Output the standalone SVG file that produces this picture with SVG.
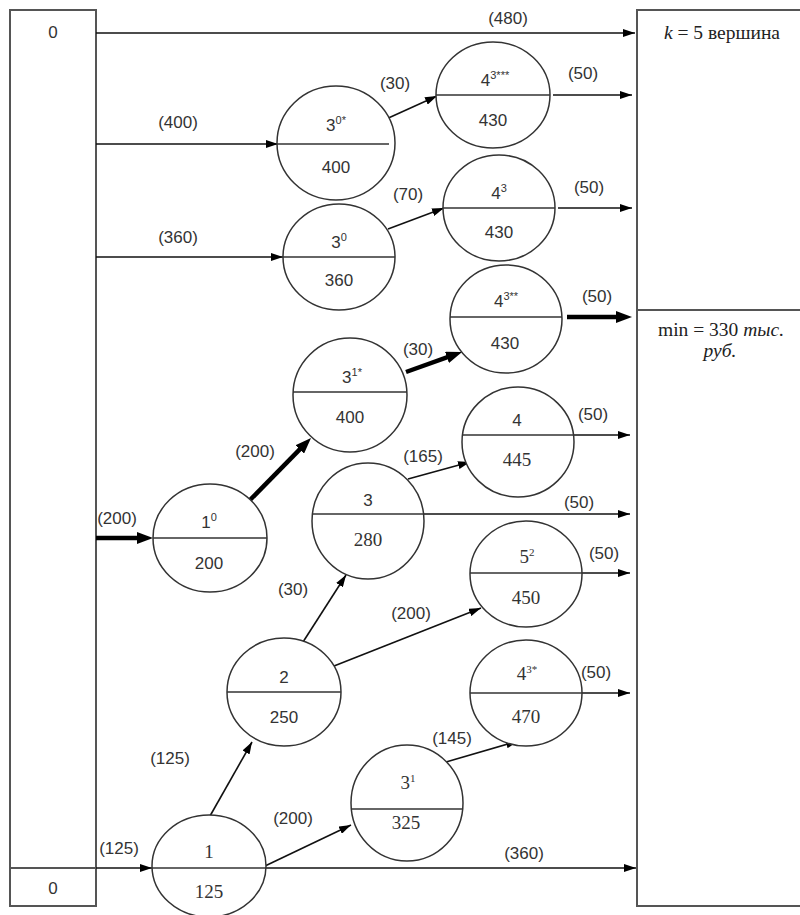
<svg xmlns="http://www.w3.org/2000/svg" width="800" height="915" viewBox="0 0 800 915">
<defs>
<style>
.box{fill:none;stroke:#555;stroke-width:2}
.node{fill:#fff;stroke:#333;stroke-width:1.5}
.div{stroke:#333;stroke-width:1.5}
.c{fill:none;stroke:#111;stroke-width:1.6;marker-end:url(#ah)}
.t{fill:none;stroke:#000;stroke-width:4.5;marker-end:url(#ahb)}
text{font-family:"Liberation Sans",Arial,sans-serif;font-size:17px;fill:#333;text-anchor:middle}
.s{font-family:"Liberation Serif","Times New Roman",serif;font-size:19px}
.sup{font-size:11px}
.r{font-family:"Liberation Serif","Times New Roman",serif;font-size:19.5px;fill:#222}
</style>
<marker id="ah" viewBox="0 0 12 8" refX="12" refY="4" markerWidth="12" markerHeight="8" markerUnits="userSpaceOnUse" orient="auto"><path d="M0,0 L12,4 L0,8 z" fill="#000"/></marker>
<marker id="ahb" viewBox="0 0 16 12" refX="8" refY="6" markerWidth="16" markerHeight="12" markerUnits="userSpaceOnUse" orient="auto"><path d="M0,0 L16,6 L0,12 z" fill="#000"/></marker>
</defs>

<g id="boxes">
<rect class="box" x="10" y="10" width="86" height="896"/>
<line class="box" x1="10" y1="868" x2="96" y2="868"/>
<path class="box" d="M812,10 H637 V906 H812"/>
<line class="box" x1="637" y1="310" x2="812" y2="310"/>
<text x="53" y="38">0</text>
<text x="53" y="894">0</text>
<text class="r" x="722" y="39"><tspan font-style="italic">k</tspan> = 5 вершина</text>
<text class="r" x="721" y="336">min = 330 <tspan font-style="italic">тыс.</tspan></text>
<text class="r" x="720" y="357" font-style="italic">руб.</text>
</g>

<g id="connectors">
<line class="c" x1="96" y1="33" x2="635" y2="33"/>
<line class="c" x1="96" y1="144" x2="278" y2="144"/>
<line class="c" x1="96" y1="257" x2="283" y2="257"/>
<line class="t" x1="96" y1="538" x2="145" y2="538"/>
<line class="c" x1="96" y1="868" x2="152" y2="868"/>
<line class="c" x1="265" y1="868" x2="636" y2="868"/>
<line class="c" x1="384" y1="120" x2="437" y2="96"/>
<line class="c" x1="553" y1="95" x2="632" y2="95"/>
<line class="c" x1="388" y1="229" x2="444" y2="208"/>
<line class="c" x1="558" y1="208" x2="632" y2="208"/>
<line class="t" x1="567" y1="317" x2="624" y2="317"/>
<line class="t" x1="249" y1="501" x2="305.4" y2="443.7"/>
<line class="t" x1="406" y1="372" x2="454.5" y2="354.7"/>
<line class="c" x1="408" y1="479" x2="470" y2="462"/>
<line class="c" x1="573" y1="435" x2="630" y2="435"/>
<line class="c" x1="423" y1="514" x2="630" y2="514"/>
<line class="c" x1="303" y1="642" x2="346" y2="575"/>
<line class="c" x1="334" y1="666" x2="481" y2="608"/>
<line class="c" x1="582" y1="573" x2="630" y2="573"/>
<line class="c" x1="582" y1="693" x2="630" y2="693"/>
<line class="c" x1="210" y1="816" x2="252" y2="742"/>
<line class="c" x1="265" y1="866" x2="351" y2="825"/>
<line class="c" x1="446" y1="762" x2="518" y2="741"/>
<text x="508" y="24">(480)</text>
<text x="178" y="128">(400)</text>
<text x="178" y="243">(360)</text>
<text x="117" y="524">(200)</text>
<text x="119" y="854">(125)</text>
<text x="395" y="89">(30)</text>
<text x="583" y="79">(50)</text>
<text x="408" y="200">(70)</text>
<text x="589" y="193">(50)</text>
<text x="597" y="302">(50)</text>
<text x="255" y="457">(200)</text>
<text x="418" y="355">(30)</text>
<text x="423" y="462">(165)</text>
<text x="593" y="420">(50)</text>
<text x="579" y="508">(50)</text>
<text x="293" y="595">(30)</text>
<text x="411" y="619">(200)</text>
<text x="604" y="559">(50)</text>
<text x="596" y="678">(50)</text>
<text x="170" y="764">(125)</text>
<text x="293" y="824">(200)</text>
<text x="452" y="744">(145)</text>
<text x="524" y="859">(360)</text>
</g>

<g id="n30s">
<ellipse class="node" cx="336" cy="143" rx="59" ry="57"/>
<line class="div" x1="277" y1="144" x2="389" y2="144"/>
<text x="336" y="131">3<tspan class="sup" dy="-7">0*</tspan></text>
<text x="336" y="173">400</text>
</g>
<g id="n43s3">
<ellipse class="node" cx="493" cy="95" rx="57" ry="53"/>
<line class="div" x1="436" y1="95" x2="550" y2="95"/>
<text x="495" y="86">4<tspan class="sup" dy="-7">3***</tspan></text>
<text x="493" y="126">430</text>
</g>
<g id="n30">
<ellipse class="node" cx="339" cy="257" rx="56" ry="53"/>
<line class="div" x1="283" y1="257" x2="395" y2="257"/>
<text x="339" y="248">3<tspan class="sup" dy="-7">0</tspan></text>
<text x="339" y="286">360</text>
</g>
<g id="n43">
<ellipse class="node" cx="499" cy="208" rx="56" ry="53"/>
<line class="div" x1="443" y1="208" x2="555" y2="208"/>
<text x="499" y="199">4<tspan class="sup" dy="-7">3</tspan></text>
<text x="499" y="238">430</text>
</g>
<g id="n43s2">
<ellipse class="node" cx="506" cy="319" rx="56" ry="54"/>
<line class="div" x1="450" y1="317" x2="562" y2="317"/>
<text x="506" y="307">4<tspan class="sup" dy="-7">3**</tspan></text>
<text x="505" y="349">430</text>
</g>
<g id="n31s">
<ellipse class="node" cx="350" cy="395" rx="57" ry="57"/>
<line class="div" x1="293" y1="392" x2="407" y2="392"/>
<text x="352" y="383">3<tspan class="sup" dy="-7">1*</tspan></text>
<text x="350" y="423">400</text>
</g>
<g id="n4">
<ellipse class="node" cx="518" cy="442" rx="56" ry="55"/>
<line class="div" x1="462" y1="435" x2="574" y2="435"/>
<text x="517" y="426">4</text>
<text class="s" x="517" y="466">445</text>
</g>
<g id="n3">
<ellipse class="node" cx="368" cy="521" rx="56" ry="58"/>
<line class="div" x1="312" y1="514" x2="424" y2="514"/>
<text x="368" y="506">3</text>
<text class="s" x="368" y="546">280</text>
</g>
<g id="n10">
<ellipse class="node" cx="210" cy="538" rx="57" ry="54"/>
<line class="div" x1="153" y1="538" x2="267" y2="538"/>
<text x="209" y="528">1<tspan class="sup" dy="-7">0</tspan></text>
<text x="209" y="569">200</text>
</g>
<g id="n2">
<ellipse class="node" cx="284" cy="692" rx="57" ry="54"/>
<line class="div" x1="227" y1="692" x2="341" y2="692"/>
<text x="284" y="683">2</text>
<text x="284" y="723">250</text>
</g>
<g id="n52">
<ellipse class="node" cx="526" cy="574" rx="56" ry="53"/>
<line class="div" x1="470" y1="573" x2="582" y2="573"/>
<text class="s" x="527" y="563">5<tspan class="sup" dy="-7">2</tspan></text>
<text class="s" x="526" y="604">450</text>
</g>
<g id="n43s1">
<ellipse class="node" cx="526" cy="693" rx="56" ry="53"/>
<line class="div" x1="470" y1="693" x2="582" y2="693"/>
<text class="s" x="527" y="680">4<tspan class="sup" dy="-7">3*</tspan></text>
<text class="s" x="526" y="723">470</text>
</g>
<g id="n31">
<ellipse class="node" cx="407" cy="803" rx="56" ry="58"/>
<line class="div" x1="351" y1="809" x2="463" y2="809"/>
<text class="s" x="408" y="789">3<tspan class="sup" dy="-7">1</tspan></text>
<text class="s" x="406" y="829">325</text>
</g>
<g id="n1">
<ellipse class="node" cx="209" cy="866" rx="57" ry="51"/>
<line class="div" x1="152" y1="868" x2="266" y2="868"/>
<text class="s" x="209" y="858">1</text>
<text class="s" x="209" y="898">125</text>
</g>
</svg>
